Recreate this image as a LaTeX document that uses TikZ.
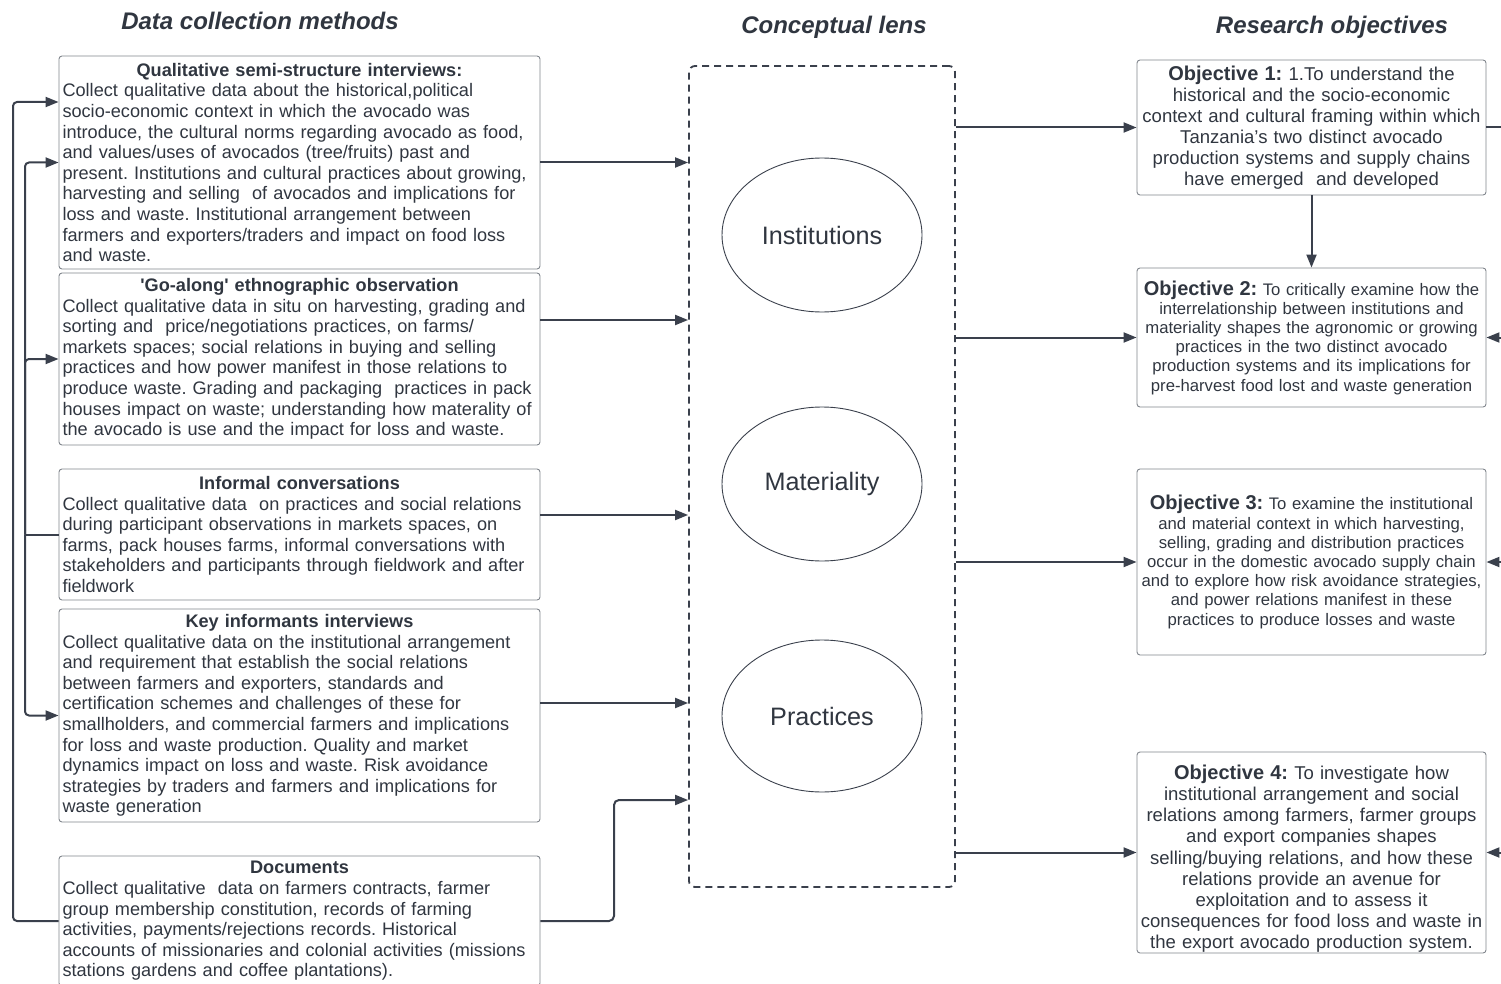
\documentclass[tikz,border=0pt]{standalone}
\usepackage{fontspec}
\setmainfont{Liberation Sans}
\usetikzlibrary{arrows.meta,shapes.geometric,calc}
\frenchspacing
\hyphenpenalty=10000
\exhyphenpenalty=10000

\definecolor{ink}{RGB}{48,54,64}
\definecolor{edge}{RGB}{128,133,140}
\definecolor{wire}{RGB}{58,64,76}

% centred bold heading line inside a method box
\newcommand\mhead[1]{\makebox[474pt][c]{\bfseries #1}}
% bold objective label
\newcommand\olabel[1]{{\fontsize{20}{21}\selectfont\bfseries #1}}

\tikzset{
  method/.style={draw=edge, line width=0.9pt, rounded corners=3pt,
    text width=474pt, inner xsep=3.5pt, inner ysep=0pt, align=left,
    font=\fontsize{18.15}{20.6}\selectfont, text=ink},
  objective/.style={draw=edge, line width=0.9pt, rounded corners=3pt,
    text width=347pt, inner xsep=1pt, inner ysep=0pt, align=center,
    text=ink},
  bigobj/.style={objective, font=\fontsize{18.55}{21.1}\selectfont},
  smallobj/.style={objective, font=\fontsize{16.7}{19.2}\selectfont},
  lensbox/.style={draw=wire, line width=1.8pt, dash pattern=on 7pt off 5pt,
    rounded corners=6pt, minimum width=266pt, minimum height=821pt},
  concept/.style={ellipse, draw=wire, line width=0.9pt, minimum width=200pt,
    minimum height=154pt, inner sep=0pt, text=ink,
    font=\fontsize{25.2}{28}\selectfont},
  heading/.style={text=ink, font=\fontsize{24}{28}\selectfont\bfseries\itshape},
  wireline/.style={draw=wire, line width=2pt},
  arr/.style={wireline, -{Triangle[length=13pt,width=10pt]}},
}

\begin{document}
\begin{tikzpicture}[x=1pt, y=-1pt]
\useasboundingbox (0,0) rectangle (1501,984);
\clip (0,0) rectangle (1501,984);

% column headings
\node[heading] (h1) at (260,21) {Data collection methods};
\node[heading] (h2) at (834,27) {Conceptual lens};
\node[heading] (h3) at (1332,27) {Research objectives};

% data collection methods
\node[method, minimum height=213pt] (b1) at (299.5,162.5) {%
\mhead{Qualitative semi-structure interviews:}\\
Collect qualitative data about the historical,political\\
socio-economic context in which the avocado was\\
introduce, the cultural norms regarding avocado as food,\\
and values/uses of avocados (tree/fruits) past and\\
present. Institutions and cultural practices about growing,\\
harvesting and selling~ of avocados and implications for\\
loss and waste. Institutional arrangement between\\
farmers and exporters/traders and impact on food loss\\
and waste.};

\node[method, minimum height=172pt] (b2) at (299.5,359) {%
\mhead{\textquotesingle Go-along\textquotesingle{} ethnographic observation}\\
Collect qualitative data in situ on harvesting, grading and\\
sorting and~ price/negotiations practices, on farms/\\
markets spaces; social relations in buying and selling\\
practices and how power manifest in those relations to\\
produce waste. Grading and packaging~ practices in pack\\
houses impact on waste; understanding how materality of\\
the avocado is use and the impact for loss and waste.};

\node[method, minimum height=131pt] (b3) at (299.5,534.5) {%
\mhead{Informal conversations}\\
Collect qualitative data~ on practices and social relations\\
during participant observations in markets spaces, on\\
farms, pack houses farms, informal conversations with\\
stakeholders and participants through fieldwork and after\\
fieldwork};

\node[method, minimum height=213pt] (b4) at (299.5,715.5) {%
\mhead{Key informants interviews}\\
Collect qualitative data on the institutional arrangement\\
and requirement that establish the social relations\\
between farmers and exporters, standards and\\
certification schemes and challenges of these for\\
smallholders, and commercial farmers and implications\\
for loss and waste production. Quality and market\\
dynamics impact on loss and waste. Risk avoidance\\
strategies by traders and farmers and implications for\\
waste generation};

\node[method, minimum height=130pt] (b5) at (299.5,921) {%
\mhead{Documents}\\
Collect qualitative~ data on farmers contracts, farmer\\
group membership constitution, records of farming\\
activities, payments/rejections records. Historical\\
accounts of missionaries and colonial activities (missions\\
stations gardens and coffee plantations).};

% conceptual lens
\node[lensbox] (lens) at (822,476.5) {};
\node[concept] (e1) at (822,235) {Institutions};
\node[concept] (e2) at (822,484) {Materiality};
\node[concept, minimum height=152pt] (e3) at (822,716) {Practices};

% research objectives
\node[bigobj, minimum height=135pt] (o1) at (1311.5,127.5) {%
\olabel{Objective 1:} 1.To understand the\\
historical and the socio-economic\\
context and cultural framing within which\\
Tanzania’s two distinct avocado\\
production systems and supply chains\\
have emerged~ and developed};

\node[smallobj, minimum height=139pt] (o2) at (1311.5,337.5) {%
\olabel{Objective 2:} To critically examine how the\\
interrelationship between institutions and\\
materiality shapes the agronomic or growing\\
practices in the two distinct avocado\\
production systems and its implications for\\
pre-harvest food lost and waste generation};

\node[smallobj, minimum height=186pt] (o3) at (1311.5,562) {%
\olabel{Objective 3:} To examine the institutional\\
and material context in which harvesting,\\
selling, grading and distribution practices\\
occur in the domestic avocado supply chain\\
and to explore how risk avoidance strategies,\\
and power relations manifest in these\\
practices to produce losses and waste};

\node[bigobj, minimum height=201pt] (o4) at (1311.5,852.5) {%
\rule{0pt}{27pt}\olabel{Objective 4:} To investigate how\\
institutional arrangement and social\\
relations among farmers, farmer groups\\
and export companies shapes\\
selling/buying relations, and how these\\
relations provide an avenue for\\
exploitation and to assess it\\
consequences for food loss and waste in\\
the export avocado production system.};

% helper levels
\coordinate (y1a) at (0,102);
\coordinate (y2) at (0,320);
\coordinate (y3) at (0,515);
\coordinate (y4) at (0,703);
\coordinate (y5) at (0,800);
\coordinate (bend) at (614,0);
\coordinate (outer) at (13,0);
\coordinate (inner) at (25,0);
\coordinate (rim) at (1525,0);

% methods feed the conceptual lens
\draw[arr] (b1.east) -- (lens.west |- b1.east);
\draw[arr] (b2.east |- y2) -- (lens.west |- y2);
\draw[arr] (b3.east |- y3) -- (lens.west |- y3);
\draw[arr] (b4.east |- y4) -- (lens.west |- y4);
\draw[arr, rounded corners=5pt] (b5.east) -| (bend |- y5) -- (lens.west |- y5);

% feedback loops on the left
\draw[arr, rounded corners=4pt] (b5.west) -| (outer |- y1a) -- (b1.west |- y1a);
\draw[wireline] (b3.west) -- (inner |- b3.west);
\draw[arr, rounded corners=4pt] (inner |- b3.west) |- (b1.west);
\draw[arr, rounded corners=4pt] (inner |- b3.west) |- (b2.west);
\draw[arr, rounded corners=4pt] (inner |- b3.west) |- (b4.west);

% lens informs the objectives
\draw[arr] (lens.east |- o1.west) -- (o1.west);
\draw[arr] (lens.east |- o2.west) -- (o2.west);
\draw[arr] (lens.east |- o3.west) -- (o3.west);
\draw[arr] (lens.east |- o4.west) -- (o4.west);
\draw[arr] (o1.south) -- (o2.north);

% loop on the right margin
\draw[wireline] (o1.east) -- (o1.east -| rim);
\draw[arr] (o2.east -| rim) -- (o2.east);
\draw[arr] (o3.east -| rim) -- (o3.east);
\draw[arr] (o4.east -| rim) -- (o4.east);
\end{tikzpicture}
\end{document}
